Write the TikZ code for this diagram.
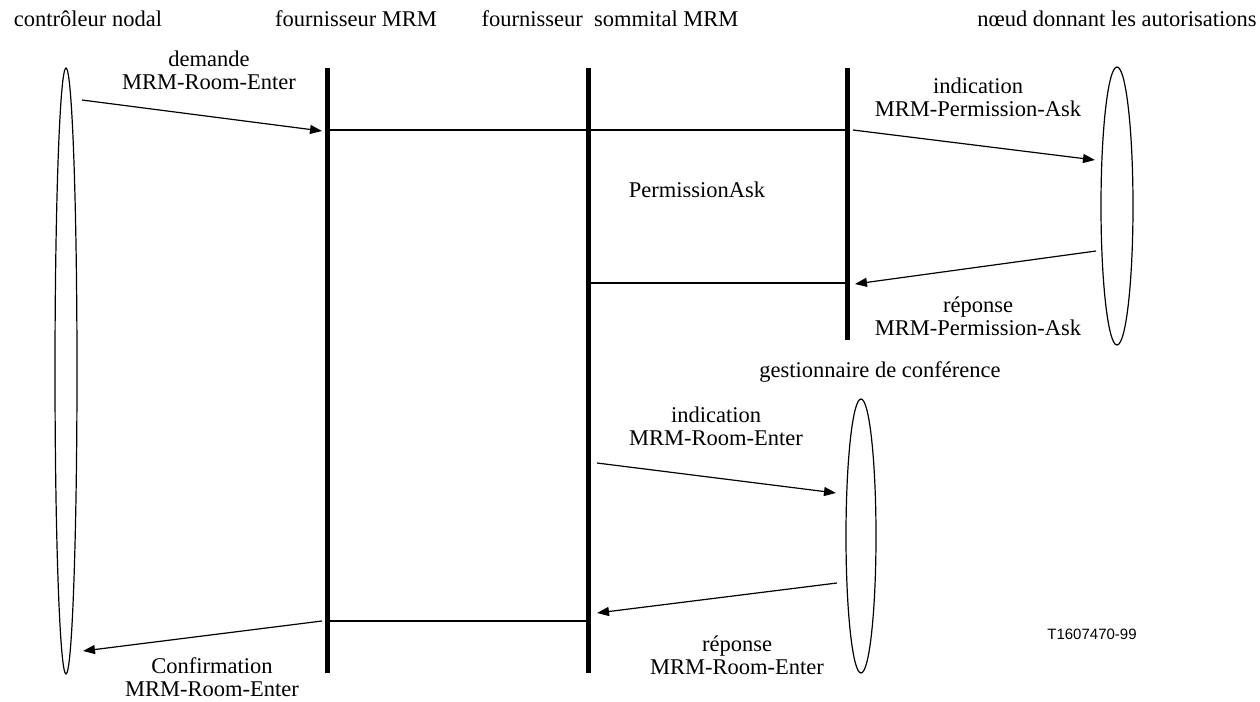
\documentclass[tikz,border=0pt]{standalone}
\usepackage{fontspec}
\setmainfont{Liberation Serif}
\newfontfamily\labelsans{Liberation Sans}
\usetikzlibrary{arrows.meta}
\begin{document}
\begin{tikzpicture}[x=0.5pt,y=-0.5pt,
  txt/.style={inner sep=0pt,font=\fontsize{11.25}{11.5}\selectfont,align=center},
  head/.style={txt,anchor=base},
  lifeline/.style={line width=2.5pt},
  link/.style={line width=1pt},
  msg/.style={line width=0.6pt,-{Triangle[length=6pt,width=4.5pt]}},
  actor/.style={draw,line width=0.6pt}]
\useasboundingbox (0,0) rectangle (1260,702);

% actors drawn as tall thin ellipses
\draw[actor] (66,371) ellipse [x radius=11, y radius=303];
\draw[actor] (1117,206) ellipse [x radius=16, y radius=139];
\draw[actor] (861,536) ellipse [x radius=15, y radius=137];

% headings
\node[head] (hnc) at (88,26) {contrôleur nodal};
\node[head] (hfm) at (356,26) {fournisseur MRM};
\node[head] (hfs) at (610,26) {fournisseur\ \ sommital MRM};
\node[head] (hna) at (1117,26) {nœud donnant les autorisations};

% lifelines of the providers
\coordinate (pA) at (327,68);  \coordinate (pAe) at (327,673);
\coordinate (pB) at (588,68);  \coordinate (pBe) at (588,673);
\coordinate (pC) at (847,68);  \coordinate (pCe) at (847,340);
\draw[lifeline] (pA) -- (pAe);
\draw[lifeline] (pB) -- (pBe);
\draw[lifeline] (pC) -- (pCe);

% internal links between providers
\coordinate (l1a) at (327,130); \coordinate (l1b) at (847,130);
\coordinate (l2a) at (588,283); \coordinate (l2b) at (847,283);
\coordinate (l3a) at (327,621); \coordinate (l3b) at (588,621);
\draw[link] (l1a) -- (l1b);
\draw[link] (l2a) -- (l2b);
\draw[link] (l3a) -- (l3b);

% message end points
\coordinate (m1s) at (82,100);   \coordinate (m1e) at (322,131);
\coordinate (m2s) at (853,130);  \coordinate (m2e) at (1095,160);
\coordinate (m3s) at (1096,251); \coordinate (m3e) at (855,284);
\coordinate (m4s) at (597,463);  \coordinate (m4e) at (836,493);
\coordinate (m5s) at (837,583);  \coordinate (m5e) at (597,613);
\coordinate (m6s) at (322,621);  \coordinate (m6e) at (83,651);
\draw[msg] (m1s) -- (m1e);
\draw[msg] (m2s) -- (m2e);
\draw[msg] (m3s) -- (m3e);
\draw[msg] (m4s) -- (m4e);
\draw[msg] (m5s) -- (m5e);
\draw[msg] (m6s) -- (m6e);

% message labels
\node[txt] (t1) at (209,70) {demande\\MRM-Room-Enter};
\node[txt] (t2) at (978,97) {indication\\MRM-Permission-Ask};
\node[txt] (t3) at (978,316) {réponse\\MRM-Permission-Ask};
\node[txt] (t4) at (697,190) {PermissionAsk};
\node[txt] (t5) at (880,372) {gestionnaire de conférence};
\node[txt] (t6) at (716,426) {indication\\MRM-Room-Enter};
\node[txt] (t7) at (737,655) {réponse\\MRM-Room-Enter};
\node[txt] (t8) at (212,677) {Confirmation\\MRM-Room-Enter};
\node[inner sep=0pt,font=\labelsans\fontsize{7.5}{8}\selectfont] (ref) at (1092,634) {T1607470-99};
\end{tikzpicture}
\end{document}
